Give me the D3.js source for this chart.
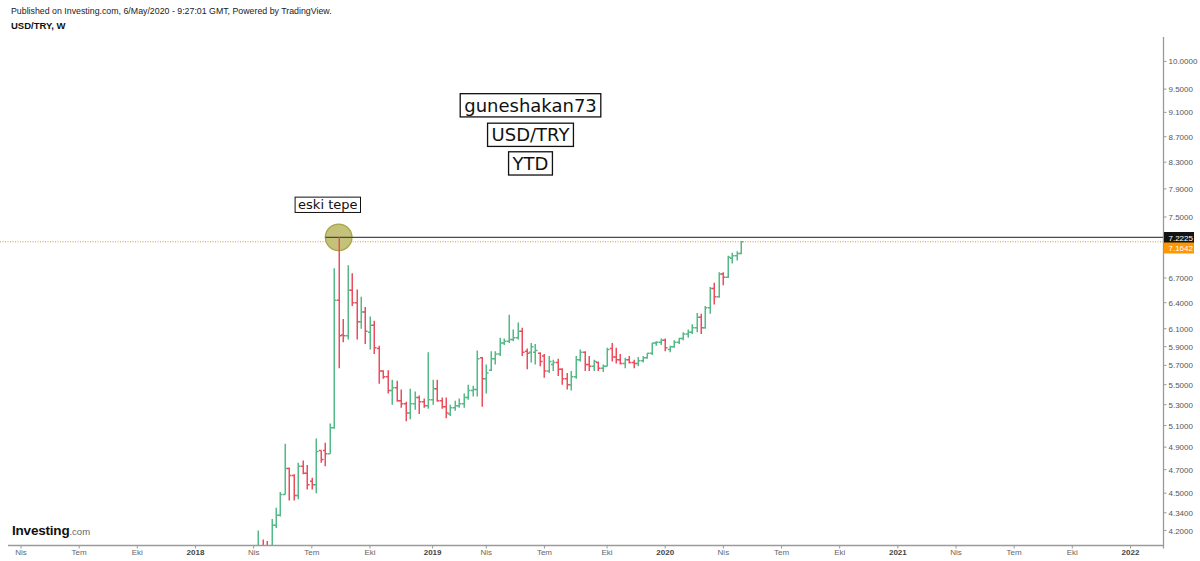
<!DOCTYPE html>
<html><head><meta charset="utf-8">
<script src="https://cdn.jsdelivr.net/npm/d3@7"></script>
<style>body{margin:0;background:#fff;} svg{display:block;}</style>
</head><body>
<svg id="c" width="1200" height="561"></svg>
<script>
// ---- data (weekly USD/TRY bars, first bar week of 2018-04-09) ----
const firstWeek = "2018-04-09";
const opens  = [4.04,4.08,4.06,4.06,4.24,4.32,4.49,4.71,4.65,4.48,4.73,4.67,4.60,4.57,4.87,4.87,4.84,5.08,6.43,6.03,6.02,6.55,6.40,6.18,6.29,6.06,6.14,5.88,5.64,5.58,5.44,5.47,5.34,5.31,5.22,5.31,5.37,5.33,5.29,
  5.35,5.46,5.34,5.28,5.21,5.27,5.29,5.31,5.37,5.44,5.45,5.78,5.56,5.65,5.77,5.82,5.94,5.96,5.98,6.00,6.07,5.85,5.84,5.84,5.83,5.80,5.64,5.71,5.73,5.66,5.56,5.50,5.58,5.76,5.84,5.71,5.69,5.73,5.67,5.69,5.88,5.79,5.76,5.72,5.76,5.73,5.72,5.75,5.78,5.83,5.94,5.95,
  5.97,5.87,5.90,5.95,5.99,6.04,6.06,6.11,6.23,6.11,6.34,6.57,6.47,6.75,6.71,6.95,6.98,7.01];
const highs  = [4.20,4.13,4.12,4.29,4.38,4.51,4.93,4.72,4.66,4.76,4.78,4.74,4.63,4.98,4.87,4.94,5.12,6.82,7.2225,6.21,6.86,6.76,6.56,6.47,6.35,6.24,6.19,5.91,5.65,5.65,5.55,5.54,5.45,5.33,5.46,5.43,5.39,5.36,5.84,
  5.55,5.55,5.37,5.37,5.30,5.34,5.36,5.41,5.50,5.49,5.86,5.79,5.71,5.85,5.85,6.00,5.99,6.26,6.09,6.17,6.11,5.88,5.94,5.93,5.84,5.82,5.80,5.76,5.77,5.67,5.62,5.64,5.80,5.87,5.85,5.80,5.76,5.74,5.71,5.89,5.94,5.89,5.82,5.78,5.80,5.76,5.79,5.80,5.83,5.94,5.96,5.99,
  5.99,5.91,5.97,6.00,6.06,6.09,6.15,6.28,6.27,6.36,6.59,6.64,6.77,6.77,6.98,7.02,7.04,7.17];
const lows   = [4.03,4.01,4.03,4.04,4.22,4.31,4.49,4.44,4.44,4.45,4.66,4.53,4.53,4.50,4.76,4.73,4.84,5.07,5.67,5.95,5.98,6.36,5.98,6.10,5.93,5.87,5.82,5.51,5.56,5.41,5.30,5.33,5.27,5.14,5.16,5.25,5.21,5.27,5.26,
  5.30,5.33,5.26,5.17,5.19,5.24,5.27,5.27,5.35,5.38,5.38,5.28,5.41,5.64,5.71,5.80,5.92,5.94,5.96,5.98,5.80,5.66,5.73,5.71,5.69,5.57,5.62,5.64,5.59,5.50,5.45,5.44,5.56,5.74,5.64,5.64,5.64,5.64,5.63,5.69,5.74,5.72,5.71,5.67,5.72,5.67,5.69,5.73,5.77,5.81,5.91,5.92,
  5.85,5.84,5.89,5.93,5.97,6.00,6.04,6.06,6.04,6.10,6.27,6.38,6.46,6.61,6.70,6.88,6.92,7.00];
const closes = [4.08,4.05,4.05,4.24,4.32,4.49,4.71,4.65,4.48,4.73,4.67,4.57,4.57,4.86,4.79,4.84,5.08,6.43,6.02,6.02,6.55,6.40,6.18,6.29,6.07,6.14,5.89,5.64,5.58,5.44,5.47,5.34,5.31,5.22,5.31,5.37,5.33,5.29,5.35,
  5.46,5.34,5.28,5.22,5.27,5.29,5.31,5.37,5.44,5.45,5.77,5.56,5.62,5.77,5.82,5.94,5.96,5.98,6.00,6.07,5.84,5.83,5.90,5.86,5.74,5.64,5.74,5.73,5.66,5.56,5.50,5.58,5.76,5.84,5.71,5.69,5.74,5.67,5.69,5.87,5.79,5.76,5.72,5.76,5.73,5.72,5.75,5.78,5.83,5.94,5.95,5.97,
  5.89,5.90,5.95,5.99,6.04,6.06,6.11,6.23,6.11,6.34,6.57,6.47,6.75,6.71,6.96,6.98,7.01,7.1642];
const priceTicks = [10, 9.5, 9.1, 8.7, 8.3, 7.9, 7.5, 6.7, 6.4, 6.1, 5.9, 5.7, 5.5, 5.3, 5.1, 4.9, 4.7, 4.5, 4.34, 4.2];
const quarterNames = ["", "Nis", "Tem", "Eki"];   // January ticks show the year
const noteLines = ["guneshakan73", "USD/TRY", "YTD"];
const peakNote = "eski tepe";
const peakValue = 7.2225;
const lastValue = 7.1642;
const peakIndex = 18;
const headerLine = "Published on Investing.com, 6/May/2020 - 9:27:01 GMT, Powered by TradingView.";
const symbolLine = "USD/TRY, W";

// ---- drawing ----
const svg = d3.select("#c");
const W = 1200, H = 561;
const axisX = 1163.5, axisY = 545.5, plotTop = 37;
const sans = "'Liberation Sans', Arial, sans-serif";
const verd = "'DejaVu Sans', Verdana, sans-serif";

const parse = d3.utcParse("%Y-%m-%d");
const dates = opens.map((_, i) => d3.utcDay.offset(parse(firstWeek), 7 * i));
const bars = opens.map((o, i) => ({d: dates[i], o, h: highs[i], l: lows[i], c: closes[i]}));

const x = d3.scaleUtc().domain([new Date(Date.UTC(2018,0,1)), new Date(Date.UTC(2022,0,1))]).range([195.5, 1129.2]);
const y = d3.scaleLog().domain([4.2, 10]).range([530.5, 61.4]);

svg.append("rect").attr("width", W).attr("height", H).attr("fill", "#fff");

// header
svg.append("text").attr("x", 11).attr("y", 14).attr("font-family", sans).attr("font-size", 8.8)
  .attr("fill", "#222").text(headerLine);
svg.append("text").attr("x", 11).attr("y", 28.5).attr("font-family", sans).attr("font-size", 9.5)
  .attr("font-weight", "bold").attr("fill", "#111").text(symbolLine);

// clip
svg.append("clipPath").attr("id", "plot").append("rect")
  .attr("x", 0).attr("y", plotTop).attr("width", axisX).attr("height", axisY - plotTop);
const plot = svg.append("g").attr("clip-path", "url(#plot)");

// orange last price dotted line
plot.append("line").attr("x1", 0).attr("x2", axisX).attr("y1", y(lastValue)).attr("y2", y(lastValue))
  .attr("stroke", "#ff9800").attr("stroke-width", 1).attr("stroke-dasharray", "1,1.5");

// peak circle
const px = x(bars[peakIndex].d), py = y(peakValue);
plot.append("circle").attr("cx", px).attr("cy", py).attr("r", 13.3)
  .attr("fill", "#c4c17a").attr("stroke", "#a8a54a").attr("stroke-width", 1.3);

// peak horizontal line
plot.append("line").attr("x1", px - 13.3).attr("x2", axisX).attr("y1", py).attr("y2", py)
  .attr("stroke", "#4a4a4a").attr("stroke-width", 1.2);

// OHLC bars
const up = "#53b987", down = "#eb4d5c";
const g = plot.append("g").attr("fill", "none").attr("stroke-width", 1.5);
g.selectAll("path").data(bars).join("path")
  .attr("stroke", d => d.c >= d.o ? up : down)
  .attr("d", d => {
    const cx = Math.round(x(d.d)) + 0.25;
    return `M${cx},${y(d.h)}V${y(d.l)}M${cx - 2.3},${y(d.o)}H${cx}M${cx},${y(d.c)}H${cx + 2.3}`;
  });

// axes lines
svg.append("line").attr("x1", 8).attr("x2", axisX).attr("y1", axisY).attr("y2", axisY)
  .attr("stroke", "#9a9a9a").attr("stroke-width", 1.3);
svg.append("line").attr("x1", axisX).attr("x2", axisX).attr("y1", plotTop).attr("y2", axisY + 3)
  .attr("stroke", "#9a9a9a").attr("stroke-width", 1.3);

// right price axis
const ya = svg.append("g");
priceTicks.forEach(v => {
  ya.append("line").attr("x1", axisX).attr("x2", axisX + 3).attr("y1", y(v)).attr("y2", y(v))
    .attr("stroke", "#9a9a9a");
  ya.append("text").attr("x", axisX + 5).attr("y", y(v) + 3).attr("font-family", sans)
    .attr("font-size", 8).attr("fill", "#555").text(d3.format(".4f")(v));
});

// price labels
function priceTag(v, yy, bg) {
  svg.append("rect").attr("x", axisX + 0.5).attr("y", yy - 5.5).attr("width", 30).attr("height", 11).attr("fill", bg);
  svg.append("text").attr("x", axisX + 5).attr("y", yy + 3).attr("font-family", sans).attr("font-size", 8)
    .attr("fill", "#fff").text(d3.format(".4f")(v));
}
priceTag(peakValue, 237.5, "#131313");
priceTag(lastValue, 248, "#ff9800");

// bottom time axis
const qStarts = d3.utcMonth.range(new Date(Date.UTC(2017,3,1)), new Date(Date.UTC(2022,0,2)), 3);
const xa = svg.append("g");
qStarts.forEach(m => {
  const t = d3.utcMonday.ceil(m);
  const xx = x(t);
  const mon = m.getUTCMonth();
  xa.append("line").attr("x1", xx).attr("x2", xx).attr("y1", axisY).attr("y2", axisY + 3).attr("stroke", "#9a9a9a");
  xa.append("text").attr("x", xx).attr("y", 555).attr("text-anchor", "middle").attr("font-family", sans)
    .attr("font-size", 8).attr("font-weight", mon === 0 ? "bold" : "normal")
    .attr("fill", mon === 0 ? "#444" : "#666")
    .text(mon === 0 ? m.getUTCFullYear() : quarterNames[mon / 3]);
});

// text boxes
function boxedText(txt, cx, cy, size, padX, padY, sw) {
  const grp = svg.append("g");
  const r = grp.append("rect");
  const t = grp.append("text").attr("x", cx).attr("y", cy).attr("text-anchor", "middle")
    .attr("dominant-baseline", "central").attr("font-family", verd).attr("font-size", size)
    .attr("fill", "#111").text(txt);
  const w = t.node().getComputedTextLength();
  const h = size * 1.18 + padY * 2;
  r.attr("x", cx - w / 2 - padX).attr("y", cy - h / 2)
    .attr("width", w + 2 * padX).attr("height", h).attr("fill", "#fff").attr("stroke", "#111").attr("stroke-width", sw);
}
const noteY = [105.3, 134.8, 163.4];
noteLines.forEach((s, i) => boxedText(s, 530.5, noteY[i], 18, 4, 1, 1.3));
boxedText(peakNote, 327.8, 204.8, 13, 3, 0, 1);

// investing logo
const logo = svg.append("text").attr("x", 12).attr("y", 535).attr("font-family", sans);
logo.append("tspan").attr("font-size", 13.5).attr("font-weight", "bold").attr("fill", "#111")
  .attr("letter-spacing", -0.2).text("Investing");
logo.append("tspan").attr("font-size", 9.5).attr("fill", "#666").text(".com");
</script>
</body></html>
